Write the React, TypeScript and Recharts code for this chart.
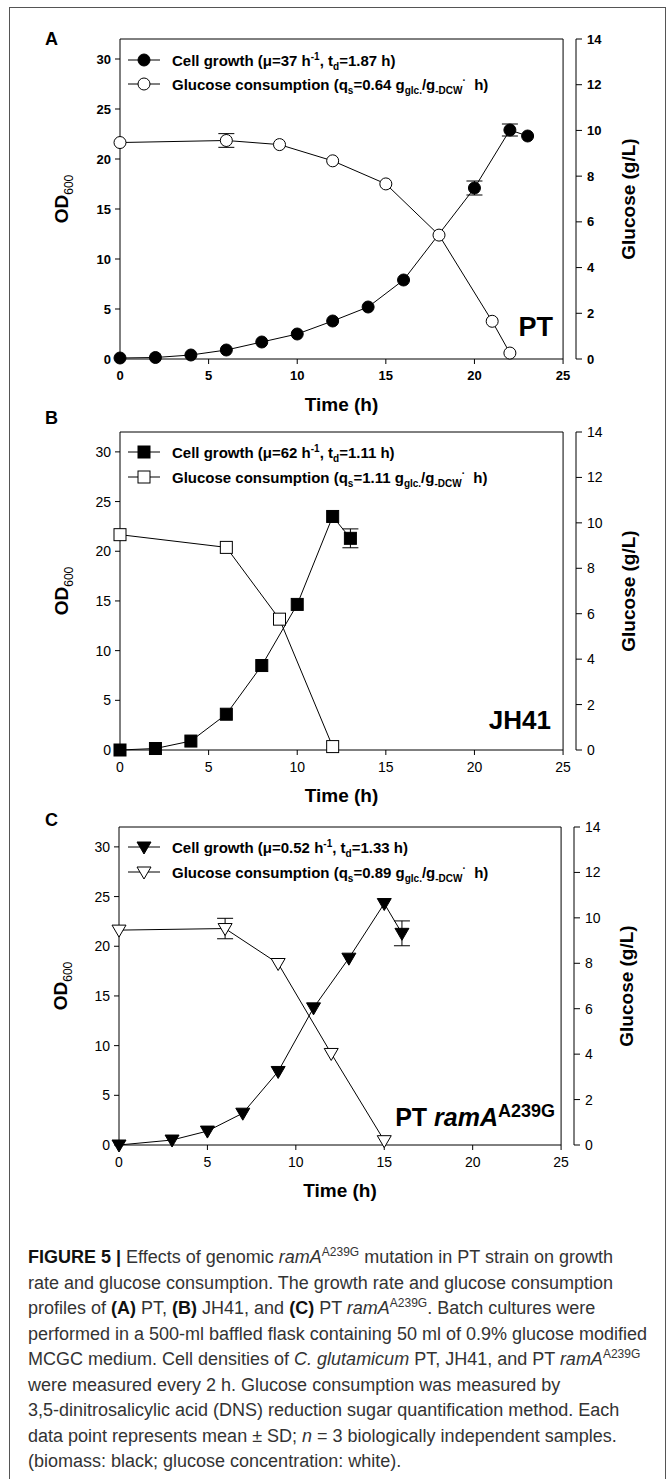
import React from "react";
import { ComposedChart, Line, Scatter, XAxis, YAxis, ErrorBar, ReferenceLine, Label } from "recharts";

const FONT = "Arial, 'Liberation Sans', Helvetica, sans-serif";

// shared axis ticks
const timeTicks = [0, 5, 10, 15, 20, 25];
const odTicks = [0, 5, 10, 15, 20, 25, 30];
const glcTicks = [0, 2, 4, 6, 8, 10, 12, 14];
const OD_MAX = 32;
const GLC_MAX = 14;
const FRAME_X = 25;
const X_MAX = 25.73; // right axis sits a little outside the plot frame

// SD is only given where a bar shows outside the marker in the figure

// (A) PT
const ptGrowthTime = [0, 2, 4, 6, 8, 10, 12, 14, 16, 20, 22, 23];
const ptGrowthOD = [0.1, 0.15, 0.4, 0.9, 1.7, 2.5, 3.8, 5.2, 7.9, 17.1, 22.9, 22.3];
const ptGrowthSD = [0, 0, 0, 0, 0, 0, 0, 0, 0, 0.7, 0.6, 0];
const ptGlcTime = [0, 6, 9, 12, 15, 18, 21, 22];
const ptGlc = [9.47, 9.56, 9.38, 8.67, 7.66, 5.42, 1.65, 0.26];
const ptGlcSD = [0, 0.3, 0, 0, 0, 0, 0, 0];

// (B) JH41
const jhGrowthTime = [0, 2, 4, 6, 8, 10, 12, 13];
const jhGrowthOD = [0, 0.15, 0.9, 3.6, 8.5, 14.65, 23.5, 21.3];
const jhGrowthSD = [0, 0, 0, 0, 0, 0, 0, 0.95];
const jhGlcTime = [0, 6, 9, 12];
const jhGlc = [9.48, 8.92, 5.76, 0.15];
const jhGlcSD = [0, 0, 0, 0];

// (C) PT ramA A239G
const raGrowthTime = [0, 3, 5, 7, 9, 11, 13, 15, 16];
const raGrowthOD = [0, 0.5, 1.4, 3.2, 7.4, 13.8, 18.8, 24.3, 21.3];
const raGrowthSD = [0, 0, 0, 0, 0, 0, 0, 0, 1.25];
const raGlcTime = [0, 6, 9, 12, 15];
const raGlc = [9.46, 9.53, 7.99, 4.03, 0.19];
const raGlcSD = [0, 0.45, 0, 0, 0];

type Pt = { t: number; v: number; e: number };
const rows = (ts: number[], vs: number[], es: number[]): Pt[] =>
  ts.map((t, i) => ({ t, v: vs[i], e: es[i] }));

type Shape = "circle" | "square" | "triangle";

function Marker({ cx, cy, shape, filled }: { cx: number; cy: number; shape: Shape; filled: boolean }) {
  const fill = filled ? "#000" : "#fff";
  if (shape === "circle") return <circle cx={cx} cy={cy} r={6} fill={fill} stroke="#000" strokeWidth={1} />;
  if (shape === "square") return <rect x={cx - 6} y={cy - 6} width={12} height={12} fill={fill} stroke="#000" strokeWidth={1} />;
  return (
    <polygon
      points={`${cx - 7},${cy - 5} ${cx + 7},${cy - 5} ${cx},${cy + 7}`}
      fill={fill}
      stroke="#000"
      strokeWidth={1}
    />
  );
}

const Sup = ({ children }: { children: React.ReactNode }) => (
  <span style={{ fontSize: 10, verticalAlign: "super", lineHeight: 0 }}>{children}</span>
);
const Sub = ({ children }: { children: React.ReactNode }) => (
  <span style={{ fontSize: 10, verticalAlign: "sub", lineHeight: 0 }}>{children}</span>
);

function LegendRow({ cy, shape, filled, children }: { cy: number; shape: Shape; filled: boolean; children: React.ReactNode }) {
  return (
    <div
      style={{
        position: "absolute",
        left: 128,
        top: cy - 10,
        height: 20,
        display: "flex",
        alignItems: "center",
        whiteSpace: "nowrap",
        fontFamily: FONT,
        fontWeight: 700,
        fontSize: 15,
        color: "#000",
      }}
    >
      <svg width={32} height={20} style={{ display: "block" }}>
        <line x1={0} y1={10} x2={32} y2={10} stroke="#000" strokeWidth={1} />
        <Marker cx={16} cy={10} shape={shape} filled={filled} />
      </svg>
      <span style={{ marginLeft: 12 }}>{children}</span>
    </div>
  );
}

type Cfg = {
  chartTop: number;
  chartH: number;
  plotTop: number;
  plotBottom: number;
  left: number;
  right: number;
};

function timeTitle({ viewBox }: any) {
  const cx = viewBox.x + (viewBox.width * FRAME_X) / X_MAX / 2;
  return (
    <text x={cx} y={viewBox.y + 52} textAnchor="middle" fontFamily={FONT} fontWeight={700} fontSize={19} fill="#000">
      Time (h)
    </text>
  );
}

function odTitle({ viewBox }: any) {
  const cy = viewBox.y + viewBox.height / 2;
  return (
    <text
      transform={`translate(${viewBox.x + 8},${cy}) rotate(-90)`}
      textAnchor="middle"
      fontFamily={FONT}
      fontWeight={700}
      fontSize={19}
      fill="#000"
    >
      OD
      <tspan fontSize={12} fontWeight={400} dy={5}>
        600
      </tspan>
    </text>
  );
}

function glcTitle({ viewBox }: any) {
  const cy = viewBox.y + viewBox.height / 2;
  return (
    <text
      transform={`translate(${viewBox.x + 59},${cy}) rotate(-90)`}
      textAnchor="middle"
      fontFamily={FONT}
      fontWeight={700}
      fontSize={19}
      fill="#000"
    >
      Glucose (g/L)
    </text>
  );
}

function Panel({
  cfg,
  growth,
  glucose,
  shape,
  boldTicks,
}: {
  cfg: Cfg;
  growth: Pt[];
  glucose: Pt[];
  shape: Shape;
  boldTicks: boolean;
}) {
  const tick = {
    fontSize: boldTicks ? 13 : 14,
    fontWeight: boldTicks ? 700 : 400,
    fill: "#000",
    fontFamily: FONT,
  };
  const margin = {
    top: cfg.plotTop - cfg.chartTop,
    bottom: cfg.chartTop + cfg.chartH - cfg.plotBottom - 50,
    left: cfg.left - 60,
    right: 670 - cfg.right - 50,
  };
  return (
    <div style={{ position: "absolute", left: 0, top: cfg.chartTop }}>
      <ComposedChart width={670} height={cfg.chartH} margin={margin}>
        <XAxis
          dataKey="t"
          type="number"
          domain={[0, X_MAX]}
          ticks={timeTicks}
          interval={0}
          axisLine={false}
          tickLine={{ stroke: "#000" }}
          tickSize={5}
          tickMargin={7}
          height={50}
          tick={tick}
        >
          <Label content={timeTitle} />
        </XAxis>
        <YAxis
          yAxisId="od"
          orientation="left"
          width={60}
          domain={[0, OD_MAX]}
          ticks={odTicks}
          interval={0}
          axisLine={{ stroke: "#000" }}
          tickLine={{ stroke: "#000" }}
          tickSize={5}
          tickMargin={4}
          tick={tick}
        >
          <Label content={odTitle} />
        </YAxis>
        <YAxis
          yAxisId="glc"
          orientation="right"
          width={50}
          domain={[0, GLC_MAX]}
          ticks={glcTicks}
          interval={0}
          axisLine={{ stroke: "#000" }}
          tickLine={{ stroke: "#000" }}
          tickSize={6}
          tickMargin={5}
          tick={tick}
        >
          <Label content={glcTitle} />
        </YAxis>
        {/* plot frame */}
        <ReferenceLine yAxisId="od" segment={[{ x: 0, y: 0 }, { x: FRAME_X, y: 0 }]} stroke="#000" strokeWidth={1} />
        <ReferenceLine yAxisId="od" segment={[{ x: 0, y: OD_MAX }, { x: FRAME_X, y: OD_MAX }]} stroke="#000" strokeWidth={1} />
        <ReferenceLine yAxisId="od" segment={[{ x: FRAME_X, y: 0 }, { x: FRAME_X, y: OD_MAX }]} stroke="#000" strokeWidth={1} />

        {/* connecting lines + SD bars */}
        <Line yAxisId="od" data={growth} dataKey="v" type="linear" stroke="#000" strokeWidth={1} dot={false} activeDot={false} isAnimationActive={false}>
          <ErrorBar dataKey="e" width={8} stroke="#000" strokeWidth={1} direction="y" />
        </Line>
        <Line yAxisId="glc" data={glucose} dataKey="v" type="linear" stroke="#000" strokeWidth={1} dot={false} activeDot={false} isAnimationActive={false}>
          <ErrorBar dataKey="e" width={8} stroke="#000" strokeWidth={1} direction="y" />
        </Line>

        {/* markers */}
        <Scatter
          yAxisId="od"
          data={growth}
          dataKey="v"
          isAnimationActive={false}
          shape={(p: any) => <Marker cx={p.cx} cy={p.cy} shape={shape} filled />}
        />
        <Scatter
          yAxisId="glc"
          data={glucose}
          dataKey="v"
          isAnimationActive={false}
          shape={(p: any) => <Marker cx={p.cx} cy={p.cy} shape={shape} filled={false} />}
        />
      </ComposedChart>
    </div>
  );
}

const cfgA: Cfg = { chartTop: 0, chartH: 415, plotTop: 39, plotBottom: 359, left: 120, right: 576 };
const cfgB: Cfg = { chartTop: 415, chartH: 393, plotTop: 432, plotBottom: 750, left: 120, right: 576 };
const cfgC: Cfg = { chartTop: 808, chartH: 405, plotTop: 827, plotBottom: 1145, left: 119, right: 574 };

const panelLetter = (txt: string, top: number) => (
  <div style={{ position: "absolute", left: 45, top, fontFamily: FONT, fontWeight: 700, fontSize: 18, lineHeight: "20px" }}>
    {txt}
  </div>
);

const capSup = (s: string) => (
  <span style={{ fontSize: 12, verticalAlign: "super", lineHeight: 0 }}>{s}</span>
);

const captionLines: React.ReactNode[] = [
  <>
    <b style={{ color: "#111" }}>FIGURE 5 |</b> Effects of genomic <i>ramA</i>
    {capSup("A239G")} mutation in PT strain on growth
  </>,
  <>rate and glucose consumption. The growth rate and glucose consumption</>,
  <>
    profiles of <b style={{ color: "#111" }}>(A)</b> PT, <b style={{ color: "#111" }}>(B)</b> JH41, and{" "}
    <b style={{ color: "#111" }}>(C)</b> PT <i>ramA</i>
    {capSup("A239G")}. Batch cultures were
  </>,
  <>performed in a 500-ml baffled flask containing 50 ml of 0.9% glucose modified</>,
  <>
    MCGC medium. Cell densities of <i>C. glutamicum</i> PT, JH41, and PT <i>ramA</i>
    {capSup("A239G")}
  </>,
  <>were measured every 2 h. Glucose consumption was measured by</>,
  <>3,5-dinitrosalicylic acid (DNS) reduction sugar quantification method. Each</>,
  <>
    data point represents mean ± SD; <i>n</i> = 3 biologically independent samples.
  </>,
  <>(biomass: black; glucose concentration: white).</>,
];

export default function App() {
  return (
    <div style={{ position: "absolute", left: 0, top: 0, width: 670, height: 1479, overflow: "hidden", background: "#fff" }}>
      <div
        style={{
          position: "absolute",
          left: 9,
          top: 7,
          width: 657,
          height: 1472,
          borderLeft: "1.5px solid #555",
          borderTop: "1.5px solid #555",
          borderRight: "1.5px solid #555",
          boxSizing: "border-box",
        }}
      />

      <Panel cfg={cfgA} growth={rows(ptGrowthTime, ptGrowthOD, ptGrowthSD)} glucose={rows(ptGlcTime, ptGlc, ptGlcSD)} shape="circle" boldTicks />
      <Panel cfg={cfgB} growth={rows(jhGrowthTime, jhGrowthOD, jhGrowthSD)} glucose={rows(jhGlcTime, jhGlc, jhGlcSD)} shape="square" boldTicks={false} />
      <Panel cfg={cfgC} growth={rows(raGrowthTime, raGrowthOD, raGrowthSD)} glucose={rows(raGlcTime, raGlc, raGlcSD)} shape="triangle" boldTicks={false} />

      {panelLetter("A", 29)}
      {panelLetter("B", 408)}
      {panelLetter("C", 810)}

      {/* legends */}
      <LegendRow cy={cfgA.plotTop + 21} shape="circle" filled>
        Cell growth (μ=37 h<Sup>-1</Sup>, t<Sub>d</Sub>=1.87 h)
      </LegendRow>
      <LegendRow cy={cfgA.plotTop + 45} shape="circle" filled={false}>
        Glucose consumption (q<Sub>s</Sub>=0.64 g<Sub>glc.</Sub>/g<Sub>-DCW</Sub>
        <Sup>·</Sup>&nbsp; h)
      </LegendRow>
      <LegendRow cy={cfgB.plotTop + 20} shape="square" filled>
        Cell growth (μ=62 h<Sup>-1</Sup>, t<Sub>d</Sub>=1.11 h)
      </LegendRow>
      <LegendRow cy={cfgB.plotTop + 45} shape="square" filled={false}>
        Glucose consumption (q<Sub>s</Sub>=1.11 g<Sub>glc.</Sub>/g<Sub>-DCW</Sub>
        <Sup>·</Sup>&nbsp; h)
      </LegendRow>
      <LegendRow cy={cfgC.plotTop + 20} shape="triangle" filled>
        Cell growth (μ=0.52 h<Sup>-1</Sup>, t<Sub>d</Sub>=1.33 h)
      </LegendRow>
      <LegendRow cy={cfgC.plotTop + 45} shape="triangle" filled={false}>
        Glucose consumption (q<Sub>s</Sub>=0.89 g<Sub>glc.</Sub>/g<Sub>-DCW</Sub>
        <Sup>·</Sup>&nbsp; h)
      </LegendRow>

      {/* strain labels */}
      <div style={{ position: "absolute", right: 670 - 553, top: 312, fontFamily: FONT, fontWeight: 700, fontSize: 27, lineHeight: "30px" }}>
        PT
      </div>
      <div style={{ position: "absolute", right: 670 - 551, top: 705, fontFamily: FONT, fontWeight: 700, fontSize: 26, lineHeight: "30px" }}>
        JH41
      </div>
      <div style={{ position: "absolute", right: 670 - 555, top: 1102, fontFamily: FONT, fontWeight: 700, fontSize: 25, lineHeight: "30px", whiteSpace: "nowrap" }}>
        PT <i>ramA</i>
        <span style={{ fontSize: 18, verticalAlign: "super", lineHeight: 0 }}>A239G</span>
      </div>

      {/* caption */}
      {captionLines.map((ln, i) => (
        <div
          key={i}
          style={{
            position: "absolute",
            left: 28,
            top: 1245 + i * 25.5,
            height: 25,
            lineHeight: "25px",
            whiteSpace: "nowrap",
            fontFamily: FONT,
            fontSize: 18,
            color: "#333",
          }}
        >
          {ln}
        </div>
      ))}
    </div>
  );
}
